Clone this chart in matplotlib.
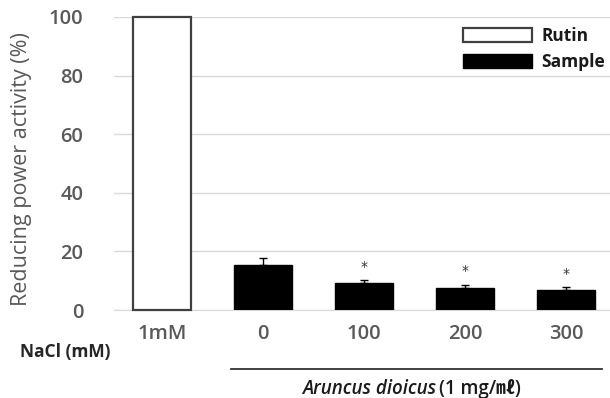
import matplotlib
matplotlib.use("Agg")
import matplotlib.pyplot as plt
from matplotlib.lines import Line2D
import matplotlib.transforms as mtransforms

categories = ["1mM", "0", "100", "200", "300"]
rutin_values = [100]
sample_values = [15.2, 9.1, 7.4, 6.8]
sample_errors = [2.5, 1.0, 1.2, 1.0]
significant = [False, True, True, True]
yticks = [0, 20, 40, 60, 80, 100]

plt.rcParams['font.family'] = ['Open Sans', 'Noto Sans CJK KR', 'DejaVu Sans']

fig = plt.figure(figsize=(6.10, 3.98), dpi=100)
ax = fig.add_axes([114/610, 1-310/398, 496/610, 293/398])

x = list(range(len(categories)))
w = 0.57
ax.bar(x[:1], rutin_values, width=w, color='white', edgecolor='#404040',
       linewidth=1.6, label='Rutin', zorder=3, clip_on=False)
ax.bar(x[1:], sample_values, width=w, color='black', edgecolor='black',
       linewidth=1, label='Sample', zorder=3)
ax.errorbar(x[1:], sample_values, yerr=[[0]*len(sample_errors), sample_errors],
            fmt='none', ecolor='black', elinewidth=1, capsize=3, capthick=1, zorder=4)
for xi, v, e, s in zip(x[1:], sample_values, sample_errors, significant):
    if s:
        ax.text(xi, v + e + 2.2, '*', ha='center', va='bottom', fontsize=10,
                color='#333333', family='DejaVu Sans')

ax.set_xlim(-0.475, 4.436)
ax.set_ylim(0, 100)
ax.set_yticks(yticks)
ax.set_yticklabels([str(t) for t in yticks], fontsize=14.5, color='#595959', fontweight='semibold')
ax.set_xticks(x)
ax.set_xticklabels(categories, fontsize=14.5, color='#595959', fontweight='semibold')
ax.tick_params(axis='both', length=0)
ax.tick_params(axis='y', pad=22)
ax.tick_params(axis='x', pad=10)
ax.grid(axis='y', color='#d9d9d9', linewidth=1, zorder=0)
for sp in ['top', 'right', 'left']:
    ax.spines[sp].set_visible(False)
ax.spines['bottom'].set_color('#d9d9d9')
ax.set_ylabel('Reducing power activity (%)', fontsize=15.5, color='#595959')
ax.yaxis.set_label_coords(-0.165, 0.48)

leg = fig.legend(loc='upper left', bbox_to_anchor=(463/610, 1-27/398), frameon=False,
                 prop={'weight': 'bold', 'size': 12.5}, handlelength=4.0, handleheight=0.85,
                 labelspacing=0.45, handletextpad=0.5, borderaxespad=0, borderpad=0)
for t in leg.get_texts():
    t.set_color('#1a1a1a')

fig.text(20/610, 1-352/398, 'NaCl (mM)', fontsize=12.5, fontweight='bold', color='#262626',
         ha='left', va='center')

trans = mtransforms.blended_transform_factory(ax.transData, fig.transFigure)
fig.add_artist(Line2D([0.68, 4.36], [1-369/398, 1-369/398], transform=trans,
                      color='#333333', linewidth=1.3))

fig.canvas.draw()
r = fig.canvas.get_renderer()
t1 = fig.text(302/610, 1-389/398, 'Aruncus dioicus', fontsize=13.5, style='italic',
              color='#1a1a1a', ha='left', va='center', fontweight='semibold')
bb = t1.get_window_extent(renderer=r)
fig.text((bb.x1 + 3)/610, 1-389/398, '(1 mg/㎖)', fontsize=13.5, color='#1a1a1a',
         ha='left', va='center', fontweight='semibold')

fig.savefig('out.png', dpi=100)
